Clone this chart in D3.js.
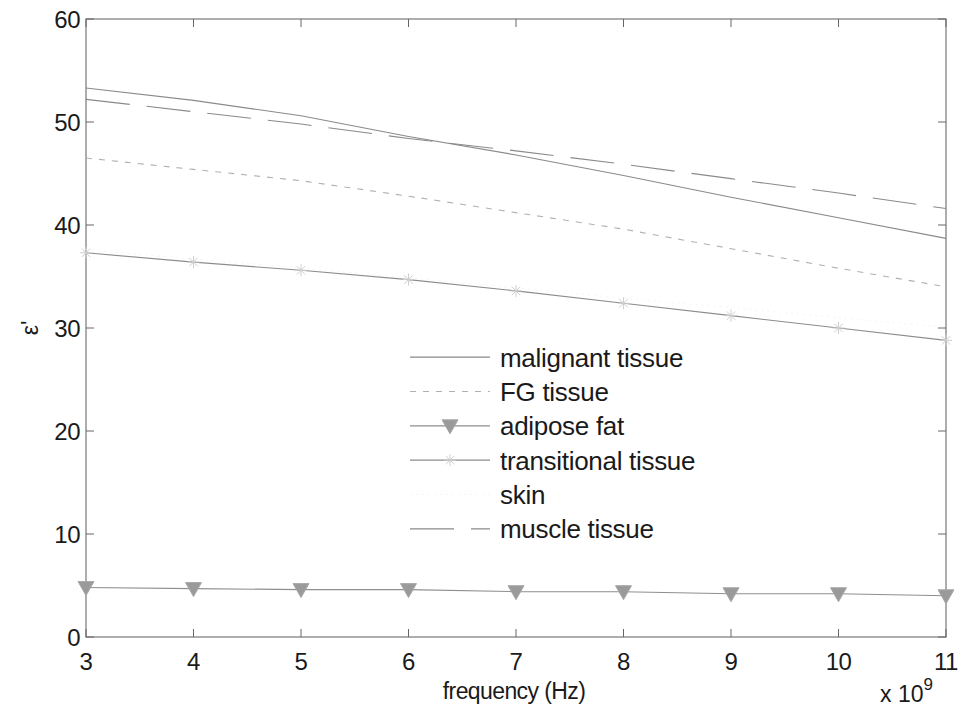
<!DOCTYPE html>
<html>
<head>
<meta charset="utf-8">
<script src="https://cdn.jsdelivr.net/npm/d3@7"></script>
<style>
  body { margin: 0; background: #fff; }
  text { font-family: 'Liberation Sans', Arial, sans-serif; fill: #1a1a1a; }
</style>
</head>
<body>
<div id="chart"></div>
<script>
let freqs = [3, 4, 5, 6, 7, 8, 9, 10, 11]
let malignant = [53.3, 52.1, 50.6, 48.6, 46.8, 44.8, 42.7, 40.7, 38.7]
let fgTissue = [46.5, 45.4, 44.3, 42.8, 41.2, 39.6, 37.7, 35.8, 34.0]
let adiposeFat = [4.8, 4.7, 4.6, 4.6, 4.4, 4.4, 4.2, 4.2, 4.0]
let transitional = [37.3, 36.4, 35.6, 34.7, 33.6, 32.4, 31.2, 30.0, 28.8]
let skin = [37.6, 36.7, 35.8, 34.9, 33.9, 32.9, 32.0, 31.0, 30.1]
let muscle = [52.2, 51.0, 49.8, 48.4, 47.2, 45.9, 44.5, 43.1, 41.6]
let xTicks = [3, 4, 5, 6, 7, 8, 9, 10, 11]
let yTicks = [0, 10, 20, 30, 40, 50, 60]

let margin = { top: 19, left: 86, right: 18, bottom: 76 }
let width = 964 - margin.left - margin.right
let height = 713 - margin.top - margin.bottom

let svg = d3.select('#chart').append('svg')
  .attr('width', 964).attr('height', 713)
  .append('g')
  .attr('transform', 'translate(' + margin.left + ',' + margin.top + ')')

let x = d3.scaleLinear().domain([3, 11]).range([0, width])
let y = d3.scaleLinear().domain([0, 60]).range([height, 0])

let series = [
  { name: 'malignant tissue', values: malignant, stroke: '#8a8a8a', dash: null, marker: null },
  { name: 'FG tissue', values: fgTissue, stroke: '#b0b0b0', dash: '6,7', marker: null },
  { name: 'adipose fat', values: adiposeFat, stroke: '#8f8f8f', dash: null, marker: 'tri' },
  { name: 'transitional tissue', values: transitional, stroke: '#8c8c8c', dash: null, marker: 'star' },
  { name: 'skin', values: skin, stroke: '#f5f5f5', dash: '2,4', marker: null },
  { name: 'muscle tissue', values: muscle, stroke: '#8a8a8a', dash: '44,17', marker: null }
]

let line = d3.line().x((d, i) => x(freqs[i])).y(d => y(d))

// box and ticks
svg.append('rect').attr('width', width).attr('height', height)
  .attr('fill', 'none').attr('stroke', '#777').attr('stroke-width', 1.2)

let tickLen = 8
let tickG = svg.append('g').attr('stroke', '#666').attr('stroke-width', 1)
xTicks.forEach(t => {
  tickG.append('line').attr('x1', x(t)).attr('x2', x(t)).attr('y1', height).attr('y2', height - tickLen)
  tickG.append('line').attr('x1', x(t)).attr('x2', x(t)).attr('y1', 0).attr('y2', tickLen)
})
yTicks.forEach(t => {
  tickG.append('line').attr('x1', 0).attr('x2', tickLen).attr('y1', y(t)).attr('y2', y(t))
  tickG.append('line').attr('x1', width).attr('x2', width - tickLen).attr('y1', y(t)).attr('y2', y(t))
})

svg.append('g').selectAll('text').data(xTicks).enter().append('text')
  .attr('x', d => x(d)).attr('y', height + 33)
  .attr('text-anchor', 'middle').attr('font-size', 24).attr('letter-spacing', -0.5)
  .text(d => d)

svg.append('g').selectAll('text').data(yTicks).enter().append('text')
  .attr('x', -6).attr('y', d => y(d)).attr('dy', '0.36em')
  .attr('text-anchor', 'end').attr('font-size', 24).attr('letter-spacing', -0.5)
  .text(d => d)

svg.append('text').attr('x', x(7) - 2).attr('y', height + 62)
  .attr('text-anchor', 'middle').attr('font-size', 23).attr('letter-spacing', -0.6)
  .text('frequency (Hz)')

let expo = svg.append('text').attr('x', 794).attr('y', height + 65).attr('font-size', 23)
expo.append('tspan').text('x 10')
expo.append('tspan').attr('dy', -12).attr('font-size', 17).text('9')

svg.append('text').attr('transform', 'translate(-48,' + (y(30)) + ') rotate(-90)')
  .attr('text-anchor', 'middle').attr('font-size', 23)
  .text("ε'")

// series lines
series.forEach(s => {
  svg.append('path').datum(s.values)
    .attr('d', line).attr('fill', 'none')
    .attr('stroke', s.stroke).attr('stroke-width', 1.1)
    .attr('stroke-dasharray', s.dash)
})

function drawMarker(g, type, cx, cy) {
  if (type === 'tri') {
    g.append('path').attr('d', `M${cx - 8},${cy - 6}L${cx + 8},${cy - 6}L${cx},${cy + 8}Z`)
      .attr('fill', '#9a9a9a').attr('stroke', '#a8a8a8').attr('stroke-width', 1)
  } else if (type === 'star') {
    let r = 6
    let sg = g.append('g').attr('stroke', '#cfcfcf').attr('stroke-width', 1)
    sg.append('line').attr('x1', cx - r).attr('x2', cx + r).attr('y1', cy).attr('y2', cy)
    sg.append('line').attr('x1', cx).attr('x2', cx).attr('y1', cy - r).attr('y2', cy + r)
    sg.append('line').attr('x1', cx - r * 0.7).attr('x2', cx + r * 0.7).attr('y1', cy - r * 0.7).attr('y2', cy + r * 0.7)
    sg.append('line').attr('x1', cx - r * 0.7).attr('x2', cx + r * 0.7).attr('y1', cy + r * 0.7).attr('y2', cy - r * 0.7)
  }
}

series.filter(s => s.marker).forEach(s => {
  let g = svg.append('g')
  s.values.forEach((v, i) => drawMarker(g, s.marker, x(freqs[i]), y(v)))
})

// legend
let legend = svg.append('g').attr('transform', 'translate(324, 321)')
let legendScale = d3.scaleBand().domain(series.map(s => s.name)).range([0, 206])

legend.selectAll('g').data(series).enter().append('g')
  .attr('transform', d => `translate(0,${legendScale(d.name) + legendScale.bandwidth() / 2})`)
  .each(function(d) {
    let g = d3.select(this)
    g.append('line').attr('x1', 0).attr('x2', 80).attr('y1', 0).attr('y2', 0)
      .attr('stroke', d.stroke).attr('stroke-width', 1.1)
      .attr('stroke-dasharray', d.name === 'muscle tissue' ? '44,17' : d.dash)
    if (d.marker) drawMarker(g, d.marker, 40, 0)
    g.append('text').attr('x', 90).attr('dy', '0.36em').attr('font-size', 26)
      .attr('letter-spacing', -0.3).text(d.name)
  })
</script>
</body>
</html>
